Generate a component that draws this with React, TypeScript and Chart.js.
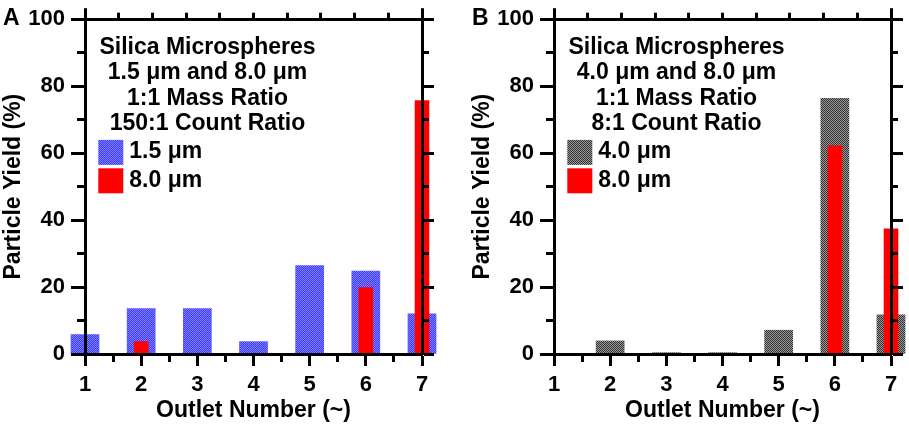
import React, { useEffect, useRef } from 'react';
import { Chart, registerables } from 'chart.js';

Chart.register(...registerables);

// ---------- data ----------
const outlets = [1, 2, 3, 4, 5, 6, 7];
const yieldA_15 = [5.8, 13.6, 13.6, 3.7, 26.4, 24.8, 12.0];
const yieldA_80 = [0, 3.8, 0, 0, 0, 19.9, 75.8];
const yieldB_40 = [0, 3.9, 0.4, 0.4, 7.1, 76.4, 11.7];
const yieldB_80 = [0, 0, 0, 0, 0, 62.3, 37.5];

const notesA = ['Silica Microspheres', '1.5 μm and 8.0 μm', '1:1 Mass Ratio', '150:1 Count Ratio'];
const notesB = ['Silica Microspheres', '4.0 μm and 8.0 μm', '1:1 Mass Ratio', '8:1 Count Ratio'];
const legendA = ['1.5 μm', '8.0 μm'];
const legendB = ['4.0 μm', '8.0 μm'];

const xTitle = 'Outlet Number (~)';
const yTitle = 'Particle Yield (%)';

const FAMILY = "'Liberation Sans', Arial, sans-serif";

function makePattern(c1: string, c2: string): CanvasPattern {
  const cv = document.createElement('canvas');
  cv.width = 2;
  cv.height = 2;
  const g = cv.getContext('2d')!;
  g.fillStyle = c1;
  g.fillRect(0, 0, 2, 2);
  g.fillStyle = c2;
  g.fillRect(0, 0, 1, 1);
  g.fillRect(1, 1, 1, 1);
  return g.createPattern(cv, 'repeat')!;
}

const isMinorY = (c: any) => c && c.tick && Math.round(c.tick.value) % 20 !== 0;
const isMinorX = (c: any) => c && c.tick && !Number.isInteger(c.tick.value);
const isInnerTop = (c: any) => c && c.tick && c.tick.value > 0 && c.tick.value < 10;

function annotate(panel: string, notes: string[]) {
  return {
    id: 'annotate',
    afterDraw(chart: any) {
      const { ctx, chartArea: a } = chart;
      ctx.save();
      ctx.fillStyle = '#000';
      ctx.textBaseline = 'alphabetic';
      ctx.font = `bold 23px ${FAMILY}`;
      ctx.textAlign = 'left';
      ctx.fillText(panel, 3, 25);
      ctx.textAlign = 'center';
      notes.forEach((t, i) => ctx.fillText(t, a.left + 122.5, a.top + 34.5 + i * 25.5));
      ctx.textAlign = 'left';
      chart.data.datasets.forEach((ds: any, i: number) => {
        const y = a.top + 120.7 + i * 28.4;
        ctx.fillStyle = ds.backgroundColor;
        ctx.fillRect(a.left + 13.3, y, 25, 25);
        ctx.fillStyle = '#000';
        ctx.fillText(ds.label, a.left + 44.3, y + 18.5);
      });
      ctx.restore();
    },
  };
}

function buildConfig(small: number[], large: number[], smallFill: CanvasPattern, labels: string[], panel: string, notes: string[]): any {
  const tickFont = { family: FAMILY, size: 22, weight: 'bold' as const };
  const titleFont = { family: FAMILY, size: 23, weight: 'bold' as const };
  const border = { color: '#000', width: 3, z: 1 };
  return {
    type: 'bar',
    data: {
      datasets: [
        {
          label: labels[0],
          data: outlets.map((x, i) => ({ x, y: small[i] })),
          backgroundColor: smallFill,
          borderWidth: 0,
          grouped: false,
          categoryPercentage: 1,
          barPercentage: 1,
          order: 1,
          clip: false,
        },
        {
          label: labels[1],
          data: outlets.map((x, i) => ({ x, y: large[i] })),
          backgroundColor: '#ff0000',
          borderWidth: 0,
          grouped: false,
          categoryPercentage: 1,
          barPercentage: 0.52,
          order: 0,
          clip: false,
        },
      ],
    },
    options: {
      responsive: false,
      animation: false,
      events: [],
      layout: { padding: 0 },
      plugins: { legend: { display: false }, tooltip: { enabled: false } },
      scales: {
        x: {
          type: 'linear',
          position: 'bottom',
          min: 1,
          max: 7,
          offset: false,
          afterFit: (s: any) => { s.height = 74; },
          ticks: {
            stepSize: 0.5,
            autoSkip: false,
            maxRotation: 0,
            padding: 6,
            color: '#000',
            font: tickFont,
            callback: (v: number) => (Number.isInteger(v) ? String(v) : ''),
          },
          grid: {
            drawOnChartArea: false,
            offset: false,
            tickLength: 12,
            tickWidth: 3,
            tickColor: '#000',
            z: 1,
            tickBorderDash: (c: any) => (isMinorX(c) ? [6, 20] : []),
          },
          border,
          title: { display: true, text: xTitle, color: '#000', font: titleFont, padding: { top: 0, bottom: 4 } },
        },
        x2: {
          type: 'linear',
          position: 'top',
          min: 0,
          max: 10,
          offset: false,
          afterFit: (s: any) => { s.height = 16; },
          ticks: { display: false, stepSize: 1, autoSkip: false },
          grid: {
            drawOnChartArea: false,
            offset: false,
            tickLength: 11,
            tickWidth: 3,
            tickColor: '#000',
            z: 1,
            tickBorderDash: (c: any) => (isInnerTop(c) ? [10, 4.5] : []),
            tickBorderDashOffset: (c: any) => (isInnerTop(c) ? 10 : 0),
          },
          border,
        },
        y: {
          type: 'linear',
          position: 'left',
          min: 0,
          max: 100,
          afterFit: (s: any) => { s.width = 85; },
          ticks: {
            stepSize: 10,
            padding: 6,
            color: '#000',
            font: tickFont,
            callback: (v: number) => (Math.round(v) % 20 === 0 ? String(v) : ''),
          },
          grid: {
            drawOnChartArea: false,
            tickLength: 14,
            tickWidth: 3,
            tickColor: '#000',
            z: 1,
            tickBorderDash: (c: any) => (isMinorY(c) ? [7, 6] : []),
            tickBorderDashOffset: (c: any) => (isMinorY(c) ? 7 : 0),
          },
          border,
          title: { display: true, text: yTitle, color: '#000', font: titleFont, padding: 0 },
        },
        y2: {
          type: 'linear',
          position: 'right',
          min: 0,
          max: 100,
          afterFit: (s: any) => { s.width = 18; },
          ticks: { display: false, stepSize: 10 },
          grid: {
            drawOnChartArea: false,
            tickLength: 12,
            tickWidth: 3,
            tickColor: '#000',
            z: 1,
            tickBorderDash: (c: any) => (isMinorY(c) ? [5, 20] : []),
          },
          border,
        },
      },
    },
    plugins: [annotate(panel, notes)],
  };
}

function Panel(props: { left: number; which: 'A' | 'B' }) {
  const ref = useRef<HTMLCanvasElement>(null);
  useEffect(() => {
    const blue = makePattern('#3a3aff', '#7f7fff');
    const gray = makePattern('#333333', '#999999');
    const cfg =
      props.which === 'A'
        ? buildConfig(yieldA_15, yieldA_80, blue, legendA, 'A', notesA)
        : buildConfig(yieldB_40, yieldB_80, gray, legendB, 'B', notesB);
    const chart = new Chart(ref.current!, cfg);
    return () => chart.destroy();
  }, [props.which]);
  return (
    <canvas
      ref={ref}
      width={440}
      height={428}
      style={{ position: 'absolute', left: props.left, top: 0, width: 440, height: 428 }}
    />
  );
}

export default function App() {
  return (
    <div style={{ position: 'absolute', left: 0, top: 0, width: 909, height: 428, background: '#fff', overflow: 'hidden' }}>
      <Panel left={0} which="A" />
      <Panel left={469} which="B" />
    </div>
  );
}
